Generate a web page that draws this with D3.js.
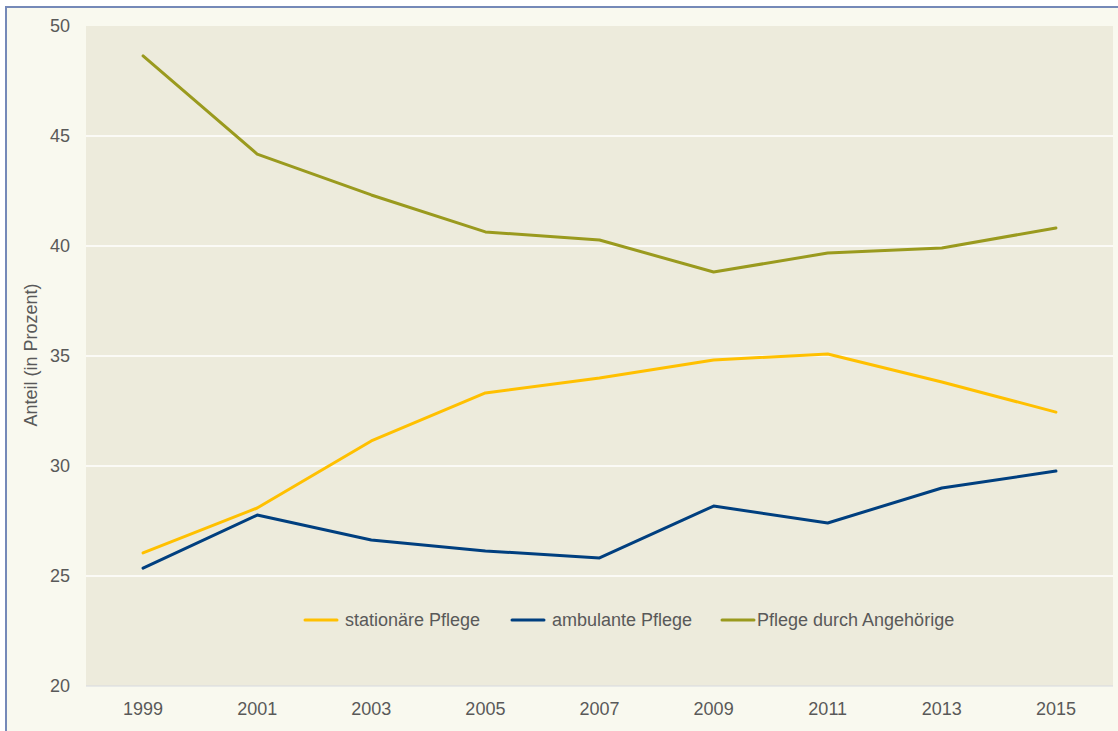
<!DOCTYPE html>
<html>
<head>
<meta charset="utf-8">
<script src="https://cdn.jsdelivr.net/npm/d3@7"></script>
<style>
  html, body { margin: 0; padding: 0; background: #ffffff; }
  svg { display: block; font-family: "Liberation Sans", Arial, sans-serif; }
</style>
</head>
<body>
<div id="chart"></div>
<script>
// Data
var years = ["1999", "2001", "2003", "2005", "2007", "2009", "2011", "2013", "2015"];
var stationaer = [26.05, 28.09, 31.14, 33.32, 34.0, 34.82, 35.09, 33.82, 32.45];
var ambulant = [25.36, 27.77, 26.64, 26.14, 25.82, 28.18, 27.41, 29.0, 29.77];
var angehoerige = [48.64, 44.18, 42.32, 40.64, 40.27, 38.82, 39.68, 39.91, 40.82];
var yTicks = [20, 25, 30, 35, 40, 45, 50];
var seriesNames = ["stationäre Pflege", "ambulante Pflege", "Pflege durch Angehörige"];
var seriesColors = ["#ffc000", "#003f7f", "#9a9a1e"];

var W = 1118, H = 731;
var plot = { left: 86, top: 26, right: 1113, bottom: 686 };

var svg = d3.select("#chart").append("svg")
    .attr("width", W)
    .attr("height", H);

// outer frame
svg.append("rect")
    .attr("x", 6).attr("y", 7)
    .attr("width", W).attr("height", H)
    .attr("fill", "#f9f9ef")
    .attr("stroke", "#7589b8")
    .attr("stroke-width", 2);

svg.append("rect")
    .attr("x", plot.left).attr("y", plot.top)
    .attr("width", plot.right - plot.left)
    .attr("height", plot.bottom - plot.top)
    .attr("fill", "#edebdc");

var x = d3.scaleBand()
    .domain(years)
    .range([plot.left, plot.right]);

var y = d3.scaleLinear()
    .domain([20, 50])
    .range([plot.bottom, plot.top]);

// gridlines
svg.append("g")
    .selectAll("line")
    .data(yTicks.filter(function (d) { return d > 20 && d < 50; }))
    .enter()
    .append("line")
    .attr("x1", plot.left)
    .attr("x2", plot.right)
    .attr("y1", function (d) { return y(d); })
    .attr("y2", function (d) { return y(d); })
    .attr("stroke", "#ffffff")
    .attr("stroke-width", 1.5);

// bottom axis line
svg.append("line")
    .attr("x1", plot.left).attr("x2", plot.right)
    .attr("y1", plot.bottom).attr("y2", plot.bottom)
    .attr("stroke", "#d6d9e0")
    .attr("stroke-width", 1);

// y axis
var yAxis = svg.append("g")
    .attr("transform", "translate(" + 70 + ",0)")
    .call(d3.axisLeft(y).tickValues(yTicks).tickSize(0).tickPadding(0));
yAxis.select(".domain").remove();
yAxis.selectAll("text")
    .attr("fill", "#595959")
    .style("font-size", "18px")
    .style("font-family", "Liberation Sans, Arial, sans-serif");

// x axis
var xAxis = svg.append("g")
    .attr("transform", "translate(0," + (plot.bottom + 16) + ")")
    .call(d3.axisBottom(x).tickSize(0).tickPadding(0));
xAxis.select(".domain").remove();
xAxis.selectAll("text")
    .attr("fill", "#595959")
    .attr("dy", "0.71em")
    .style("font-size", "18px")
    .style("font-family", "Liberation Sans, Arial, sans-serif");

// y title
svg.append("text")
    .attr("transform", "translate(37,355) rotate(-90)")
    .attr("text-anchor", "middle")
    .attr("fill", "#595959")
    .style("font-size", "18px")
    .text("Anteil (in Prozent)");

// lines
var line = d3.line()
    .x(function (d, i) { return x(years[i]) + x.bandwidth() / 2; })
    .y(function (d) { return y(d); });

var allSeries = [stationaer, ambulant, angehoerige];
svg.append("g")
    .selectAll("path")
    .data(allSeries)
    .enter()
    .append("path")
    .attr("d", function (d) { return line(d); })
    .attr("fill", "none")
    .attr("stroke", function (d, i) { return seriesColors[i]; })
    .attr("stroke-width", 3)
    .attr("stroke-linejoin", "round")
    .attr("stroke-linecap", "round");

// legend
var legendX = [305, 512, 722];
var legend = svg.append("g")
    .selectAll("g")
    .data(seriesNames)
    .enter()
    .append("g")
    .attr("transform", function (d, i) { return "translate(" + legendX[i] + ",620)"; });

legend.append("line")
    .attr("x1", 0).attr("x2", 32)
    .attr("y1", 0).attr("y2", 0)
    .attr("stroke", function (d, i) { return seriesColors[i]; })
    .attr("stroke-width", 3)
    .attr("stroke-linecap", "round");

legend.append("text")
    .attr("x", function (d, i) { return i === 2 ? 35 : 40; })
    .attr("y", 0)
    .attr("dy", "0.35em")
    .attr("fill", "#595959")
    .style("font-size", "18px")
    .text(function (d) { return d; });
</script>
</body>
</html>
